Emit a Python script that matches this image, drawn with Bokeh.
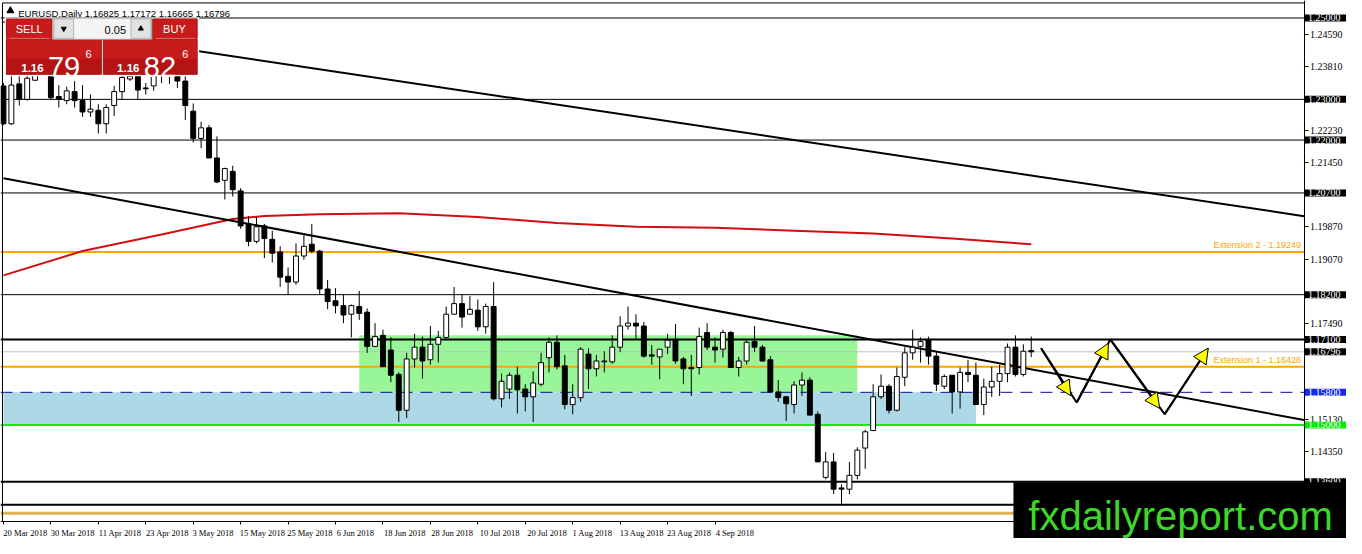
from bokeh.plotting import figure
from bokeh.models import (Range1d, FixedTicker, PrintfTickFormatter, Label, BoxAnnotation,
                          Arrow, NormalHead, ColumnDataSource)
from bokeh.embed import file_html
from bokeh.resources import INLINE
from bokeh.core.properties import value

# ---------------- data ----------------
symbol_title = "EURUSD,Daily"
ohlc_title = "1.16825 1.17172 1.16665 1.16796"

opens = [1.2333, 1.2240, 1.2338, 1.2300, 1.2347, 1.2376, 1.2371, 1.2307, 1.2297, 1.2319,
         1.2297, 1.2269, 1.2273, 1.2240, 1.2285, 1.2319, 1.2350, 1.2362, 1.2328, 1.2333,
         1.2371, 1.2381, 1.2376, 1.2345, 1.2271, 1.2204, 1.2230, 1.2156, 1.2101, 1.2123,
         1.2075, 1.1994, 1.1951, 1.1989, 1.1956, 1.1925, 1.1865, 1.1851, 1.1915, 1.1944,
         1.1927, 1.1834, 1.1805, 1.1793, 1.1772, 1.1791, 1.1777, 1.1693, 1.1720, 1.1684,
         1.1624, 1.1536, 1.1662, 1.1691, 1.1660, 1.1698, 1.1715, 1.1772, 1.1798, 1.1772,
         1.1782, 1.1741, 1.1791, 1.1564, 1.1588, 1.1622, 1.1588, 1.1569, 1.1600, 1.1665,
         1.1703, 1.1645, 1.1550, 1.1567, 1.1674, 1.1638, 1.1655, 1.1655, 1.1691, 1.1743,
         1.1750, 1.1743, 1.1672, 1.1667, 1.1691, 1.1710, 1.1662, 1.1641, 1.1641, 1.1727,
         1.1691, 1.1686, 1.1727, 1.1641, 1.1657, 1.1705, 1.1691, 1.1660, 1.1581, 1.1569,
         1.1550, 1.1598, 1.1610, 1.1526, 1.1371, 1.1409, 1.1345, 1.1342, 1.1376, 1.1443,
         1.1486, 1.1569, 1.1595, 1.1536, 1.1617, 1.1677, 1.1693, 1.1708, 1.1669, 1.1595,
         1.1622, 1.1581, 1.1629, 1.1622, 1.1550, 1.1593, 1.1607, 1.1626, 1.1691, 1.1624,
         1.16825]
highs = [1.2340, 1.2357, 1.2357, 1.2357, 1.2388, 1.2405, 1.2381, 1.2335, 1.2331, 1.2345,
         1.2335, 1.2312, 1.2288, 1.2288, 1.2333, 1.2371, 1.2371, 1.2381, 1.2340, 1.2386,
         1.2395, 1.2390, 1.2386, 1.2357, 1.2290, 1.2245, 1.2237, 1.2209, 1.2132, 1.2137,
         1.2082, 1.2013, 1.2011, 1.1994, 1.1977, 1.1939, 1.1887, 1.1946, 1.1970, 1.1994,
         1.1930, 1.1856, 1.1836, 1.1820, 1.1796, 1.1829, 1.1786, 1.1750, 1.1734, 1.1715,
         1.1629, 1.1677, 1.1724, 1.1717, 1.1743, 1.1731, 1.1791, 1.1839, 1.1820, 1.1817,
         1.1808, 1.1798, 1.1851, 1.1626, 1.1629, 1.1643, 1.1600, 1.1631, 1.1677, 1.1715,
         1.1720, 1.1672, 1.1600, 1.1691, 1.1688, 1.1672, 1.1681, 1.1720, 1.1767, 1.1791,
         1.1772, 1.1753, 1.1696, 1.1686, 1.1724, 1.1748, 1.1667, 1.1672, 1.1739, 1.1750,
         1.1715, 1.1734, 1.1731, 1.1667, 1.1708, 1.1743, 1.1696, 1.1669, 1.1610, 1.1571,
         1.1607, 1.1629, 1.1617, 1.1533, 1.1433, 1.1431, 1.1354, 1.1409, 1.1445, 1.1488,
         1.1600, 1.1624, 1.1600, 1.1641, 1.1691, 1.1734, 1.1715, 1.1717, 1.1679, 1.1624,
         1.1622, 1.1641, 1.1660, 1.1653, 1.1614, 1.1643, 1.1648, 1.1700, 1.1720, 1.1698,
         1.17172]
lows = [1.2237, 1.2237, 1.2285, 1.2297, 1.2345, 1.2366, 1.2300, 1.2280, 1.2288, 1.2280,
        1.2257, 1.2257, 1.2216, 1.2216, 1.2259, 1.2300, 1.2345, 1.2300, 1.2312, 1.2321,
        1.2340, 1.2338, 1.2328, 1.2249, 1.2194, 1.2180, 1.2156, 1.2094, 1.2054, 1.2061,
        1.1982, 1.1939, 1.1946, 1.1910, 1.1899, 1.1839, 1.1820, 1.1844, 1.1906, 1.1922,
        1.1820, 1.1784, 1.1774, 1.1750, 1.1715, 1.1758, 1.1677, 1.1691, 1.1643, 1.1605,
        1.1507, 1.1517, 1.1641, 1.1614, 1.1648, 1.1653, 1.1712, 1.1772, 1.1739, 1.1772,
        1.1731, 1.1724, 1.1560, 1.1543, 1.1564, 1.1528, 1.1533, 1.1507, 1.1595, 1.1629,
        1.1636, 1.1538, 1.1526, 1.1557, 1.1588, 1.1619, 1.1629, 1.1650, 1.1679, 1.1734,
        1.1710, 1.1665, 1.1648, 1.1612, 1.1674, 1.1650, 1.1600, 1.1571, 1.1624, 1.1684,
        1.1653, 1.1665, 1.1641, 1.1619, 1.1648, 1.1679, 1.1655, 1.1581, 1.1557, 1.1510,
        1.1528, 1.1571, 1.1524, 1.1409, 1.1366, 1.1330, 1.1302, 1.1330, 1.1366, 1.1392,
        1.1486, 1.1564, 1.1528, 1.1533, 1.1595, 1.1660, 1.1653, 1.1648, 1.1583, 1.1588,
        1.1528, 1.1540, 1.1605, 1.1550, 1.1524, 1.1569, 1.1571, 1.1605, 1.1619, 1.1619,
        1.16665]
closes = [1.2240, 1.2335, 1.2300, 1.2352, 1.2376, 1.2395, 1.2304, 1.2300, 1.2321, 1.2297,
          1.2269, 1.2276, 1.2240, 1.2280, 1.2319, 1.2354, 1.2357, 1.2323, 1.2326, 1.2371,
          1.2381, 1.2371, 1.2345, 1.2285, 1.2204, 1.2230, 1.2156, 1.2097, 1.2130, 1.2078,
          1.1989, 1.1951, 1.1987, 1.1958, 1.1922, 1.1863, 1.1851, 1.1915, 1.1939, 1.1927,
          1.1834, 1.1803, 1.1793, 1.1770, 1.1793, 1.1774, 1.1693, 1.1717, 1.1643, 1.1622,
          1.1536, 1.1662, 1.1691, 1.1657, 1.1698, 1.1715, 1.1772, 1.1798, 1.1765, 1.1784,
          1.1741, 1.1791, 1.1564, 1.1607, 1.1622, 1.1586, 1.1569, 1.1603, 1.1653, 1.1703,
          1.1643, 1.1550, 1.1567, 1.1686, 1.1638, 1.1657, 1.1657, 1.1691, 1.1743, 1.1750,
          1.1743, 1.1669, 1.1669, 1.1686, 1.1708, 1.1657, 1.1638, 1.1638, 1.1717, 1.1691,
          1.1684, 1.1727, 1.1641, 1.1657, 1.1703, 1.1691, 1.1657, 1.1581, 1.1567, 1.1552,
          1.1598, 1.1610, 1.1524, 1.1409, 1.1409, 1.1342, 1.1342, 1.1376, 1.1438, 1.1483,
          1.1569, 1.1595, 1.1536, 1.1619, 1.1677, 1.1691, 1.1705, 1.1669, 1.1600, 1.1619,
          1.1581, 1.1629, 1.1624, 1.1550, 1.1593, 1.1607, 1.1626, 1.1691, 1.1624, 1.1681,
          1.16796]

date_bars = [0, 6, 12, 18, 24, 30, 36, 42, 48, 54, 60, 66, 72, 78, 84, 90]
date_labels = ["20 Mar 2018", "30 Mar 2018", "11 Apr 2018", "23 Apr 2018", "3 May 2018",
               "15 May 2018", "25 May 2018", "6 Jun 2018", "18 Jun 2018", "28 Jun 2018",
               "10 Jul 2018", "20 Jul 2018", "1 Aug 2018", "13 Aug 2018", "23 Aug 2018",
               "4 Sep 2018"]

# price-scale ticks that are not hidden behind a level tag
price_ticks = [1.2459, 1.2381, 1.2223, 1.2145, 1.1987, 1.1907, 1.1749, 1.1513, 1.1435]

thin_levels = [1.25, 1.23, 1.22, 1.207, 1.182]
thick_levels = [1.171, 1.136, 1.1304]
ext_levels = [1.19249, 1.16428]
ext_names = ["Extension 2 - 1.19249", "Extension 1 - 1.16428"]
dashed_level = 1.158
green_level = 1.15
gold_level = 1.1283
last_price = 1.16796

tag_texts = ["1.25000", "1.23000", "1.22000", "1.20700", "1.18200", "1.17100",
             "1.16796", "1.15800", "1.15000", "1.13600"]
tag_prices = [1.25, 1.23, 1.22, 1.207, 1.182, 1.171, 1.16796, 1.158, 1.15, 1.136]
tag_colors = ["black", "black", "black", "black", "black", "black", "black",
              "#1428F0", "#00F000", "black"]

ma_bars = [0, 10, 20, 29, 33, 40, 50, 60, 70, 80, 90, 100, 110, 120, 130]
ma_values = [1.18675, 1.19272, 1.19678, 1.20060, 1.20131, 1.20179, 1.20203, 1.20107,
             1.19964, 1.19869, 1.19845, 1.19773, 1.19702, 1.19582, 1.19439]

trend1_bars = [0, 164.5]
trend1_prices = [1.2490, 1.2013]
trend2_bars = [0, 164.5]
trend2_prices = [1.2106, 1.1512]

green_zone = [45.0, 108.0, 1.1720, 1.1580]
blue_zone = [0.0, 123.0, 1.1580, 1.1500]

path_bars = [131.25, 135.75, 140.0, 146.875, 152.375]
path_prices = [1.16885, 1.15549, 1.17100, 1.15263, 1.16885]
tip_bars = [135.0, 139.75, 146.25, 152.375]
tip_prices = [1.15716, 1.17005, 1.15406, 1.16885]

sell_int, sell_big, sell_small = "1.16", "79", "6"
buy_int, buy_big, buy_small = "1.16", "82", "6"
lot_text = "0.05"
watermark = "fxdailyreport.com"

# ---------------- figure ----------------
X0, X1 = -0.375, 169.875          # whole canvas, bar units
Y0, Y1 = 1.122076, 1.254296       # whole canvas, price units
CHART_RIGHT = 164.5                # price-scale line
CHART_BOTTOM = 1.126372            # time-scale line

p = figure(width=1346, height=538, output_backend="svg", toolbar_location=None,
           x_range=Range1d(X0, X1), y_range=Range1d(Y0, Y1), y_axis_location="right",
           min_border_left=0, min_border_top=0, min_border_bottom=0, min_border_right=0)
p.background_fill_color = "white"
p.border_fill_color = "white"
p.outline_line_color = None
p.grid.visible = False


def X(px):  # reference pixel -> bar coordinate (decorations)
    return (px - 3) / 8.0


def Y(py):  # reference pixel -> price coordinate (decorations)
    return 1.254296 - py / 4190.0


# zones
p.quad(left=[blue_zone[0]], right=[blue_zone[1]], top=[blue_zone[2]], bottom=[blue_zone[3]],
       fill_color="#ADD8E6", line_color=None)
p.quad(left=[green_zone[0]], right=[green_zone[1]], top=[green_zone[2]], bottom=[green_zone[3]],
       fill_color="#98F598", line_color=None)


def hline(levels, **kw):
    p.segment(x0=[X0] * len(levels), y0=levels, x1=[CHART_RIGHT] * len(levels), y1=levels, **kw)


hline(thin_levels, line_color="black", line_width=1)
hline([last_price], line_color="#C0C0C0", line_width=1)
hline(ext_levels, line_color="#FFA500", line_width=2)
hline([dashed_level], line_color="#0A0A90", line_width=1, line_dash="12 8")
hline([green_level], line_color="#1EE61E", line_width=2)
hline([gold_level], line_color="#DDB055", line_width=3)
hline(thick_levels, line_color="black", line_width=2)

# chart frame (top and left border)
p.segment(x0=[X(2), X(2)], y0=[Y(2.5), Y(2.5)], x1=[CHART_RIGHT, X(2)],
          y1=[Y(2.5), CHART_BOTTOM], line_color="black", line_width=1)

p.text(x=[X(1316)] * 2, y=[lv + 0.0004 for lv in ext_levels], text=ext_names,
       text_align="right", text_baseline="bottom", text_color="#FFA500",
       text_font=value("Liberation Sans"), text_font_size="9px")

# moving average and trend lines
p.line(ma_bars, ma_values, line_color="#D01010", line_width=2)
p.line(trend1_bars, trend1_prices, line_color="black", line_width=2)
p.line(trend2_bars, trend2_prices, line_color="black", line_width=2)

# candles
idx = list(range(len(opens)))
src = ColumnDataSource(dict(
    x=idx, h=highs, l=lows,
    top=[max(o, c) for o, c in zip(opens, closes)],
    bot=[min(o, c) for o, c in zip(opens, closes)],
    fill=["white" if c > o else "black" for o, c in zip(opens, closes)]))
p.segment(x0="x", y0="h", x1="x", y1="l", source=src, line_color="black", line_width=1)
p.vbar(x="x", width=0.62, top="top", bottom="bot", fill_color="fill", line_color="black",
       line_width=1, source=src)

# forecast path with arrows
p.line(path_bars, path_prices, line_color="black", line_width=2)
for i in range(4):
    p.add_layout(Arrow(x_start=path_bars[i], y_start=path_prices[i], x_end=tip_bars[i],
                       y_end=tip_prices[i], line_color="black", line_width=2,
                       end=NormalHead(size=15, fill_color="#FFFF00", line_color="black",
                                      line_width=1)))

# title
p.scatter([X(10)], [Y(10.5)], marker="triangle", size=7, color="black")
p.text(x=[X(18)], y=[Y(13.5)], text=[symbol_title + "  " + ohlc_title],
       text_baseline="alphabetic", text_color="black", text_font=value("Liberation Sans"),
       text_font_size="9.5px")

# one-click trading widget
p.quad(left=[X(4)], right=[X(201)], top=[Y(17.5)], bottom=[Y(78)], fill_color="white",
       line_color=None)
p.quad(left=[X(6), X(154), X(6), X(104)], right=[X(52), X(199), X(102), X(199)],
       top=[Y(19), Y(19), Y(40), Y(40)], bottom=[Y(39), Y(39), Y(76), Y(76)],
       fill_color="#C81B1B", line_color="#B01010")
p.quad(left=[X(6), X(104)], right=[X(102), X(199)], top=[Y(60), Y(60)], bottom=[Y(76), Y(76)],
       fill_color="#B51414", line_color=None)
p.segment(x0=[X(9), X(157)], y0=[Y(39), Y(39)], x1=[X(50), X(197)], y1=[Y(39), Y(39)],
          line_color="#E87070", line_width=1)
p.quad(left=[X(53)], right=[X(153)], top=[Y(18)], bottom=[Y(40)], fill_color="#F4F4F4",
       line_color="#9A9A9A")
p.quad(left=[X(54), X(132)], right=[X(74), X(152)], top=[Y(19), Y(19)], bottom=[Y(39), Y(39)],
       fill_color="#E2E2E2", line_color="#B4B4B4")
p.scatter([X(64)], [Y(29)], marker="inverted_triangle", size=5, color="black")
p.scatter([X(142)], [Y(29)], marker="triangle", size=5, color="black")
p.text(x=[X(127)], y=[Y(30)], text=[lot_text], text_align="right", text_baseline="middle",
       text_color="black", text_font=value("Liberation Sans"), text_font_size="11px")
p.text(x=[X(29), X(176)], y=[Y(29), Y(29)], text=["SELL", "BUY"], text_align="center",
       text_baseline="middle", text_color="white",
       text_font=value("Liberation Sans"), text_font_size="11px")
p.text(x=[X(21), X(118)], y=[Y(69), Y(69)], text=[sell_int, buy_int], text_baseline="alphabetic",
       text_color="white", text_font=value("Liberation Sans"), text_font_size="11.5px",
       text_font_style="bold")
p.text(x=[X(48), X(145)], y=[Y(68.5), Y(68.5)], text=[sell_big, buy_big],
       text_baseline="alphabetic", text_color="white", text_font=value("Liberation Sans"),
       text_font_size="29px")
p.text(x=[X(86), X(184)], y=[Y(55), Y(55)], text=[sell_small, buy_small],
       text_baseline="alphabetic", text_color="white", text_font=value("Liberation Sans"),
       text_font_size="11px")

# axes (drawn at the chart edges, inside the canvas)
p.xaxis.fixed_location = CHART_BOTTOM
p.xaxis.bounds = (X0, CHART_RIGHT)
p.xaxis.ticker = FixedTicker(ticks=[b + (2.75 if len(t) > 10 else 2.5)
                                    for b, t in zip(date_bars, date_labels)],
                             minor_ticks=date_bars)
p.xaxis.major_label_overrides = {b + (2.75 if len(t) > 10 else 2.5): t
                                 for b, t in zip(date_bars, date_labels)}
p.xaxis.major_tick_line_color = None
p.xaxis.minor_tick_line_color = "black"
p.xaxis.minor_tick_out = 3
p.xaxis.minor_tick_in = 0
p.xaxis.major_label_standoff = 1
p.xaxis.major_label_text_font = "Liberation Sans Narrow"
p.xaxis.major_label_text_font_size = "8.5px"
p.xaxis.major_label_text_color = "black"
p.xaxis.axis_line_color = "black"

p.yaxis.fixed_location = CHART_RIGHT
p.yaxis.bounds = (CHART_BOTTOM, Y1)
p.yaxis.ticker = FixedTicker(ticks=price_ticks)
p.yaxis.formatter = PrintfTickFormatter(format="%.5f")
p.yaxis.major_tick_out = 4
p.yaxis.major_tick_in = 0
p.yaxis.minor_tick_line_color = None
p.yaxis.major_label_standoff = 2
p.yaxis.major_label_text_font = "Liberation Sans Narrow"
p.yaxis.major_label_text_font_size = "10px"
p.yaxis.major_label_text_color = "black"
p.yaxis.axis_line_color = "black"

# price tags on the price scale
for t, pr, col in zip(tag_texts, tag_prices, tag_colors):
    p.add_layout(Label(x=CHART_RIGHT, y=pr, x_offset=1, text=t, text_align="left",
                       text_baseline="middle", text_color="white", level="overlay",
                       text_font="Liberation Sans Narrow", text_font_size="10px",
                       background_fill_color=col,
                       padding=dict(left=3, right=12, top=0, bottom=0)))

# watermark
p.add_layout(BoxAnnotation(left=X(1025), right=X1, top=Y(496), bottom=Y0, level="overlay",
                           fill_color="black", fill_alpha=1.0, line_color=None))
p.add_layout(Label(x=X(1040), y=Y(531), text=watermark, text_align="left", level="overlay",
                   text_baseline="alphabetic", text_color="#3ED62A",
                   text_font="Liberation Sans", text_font_size="40px"))

open("out.html", "w").write(file_html(p, INLINE))
